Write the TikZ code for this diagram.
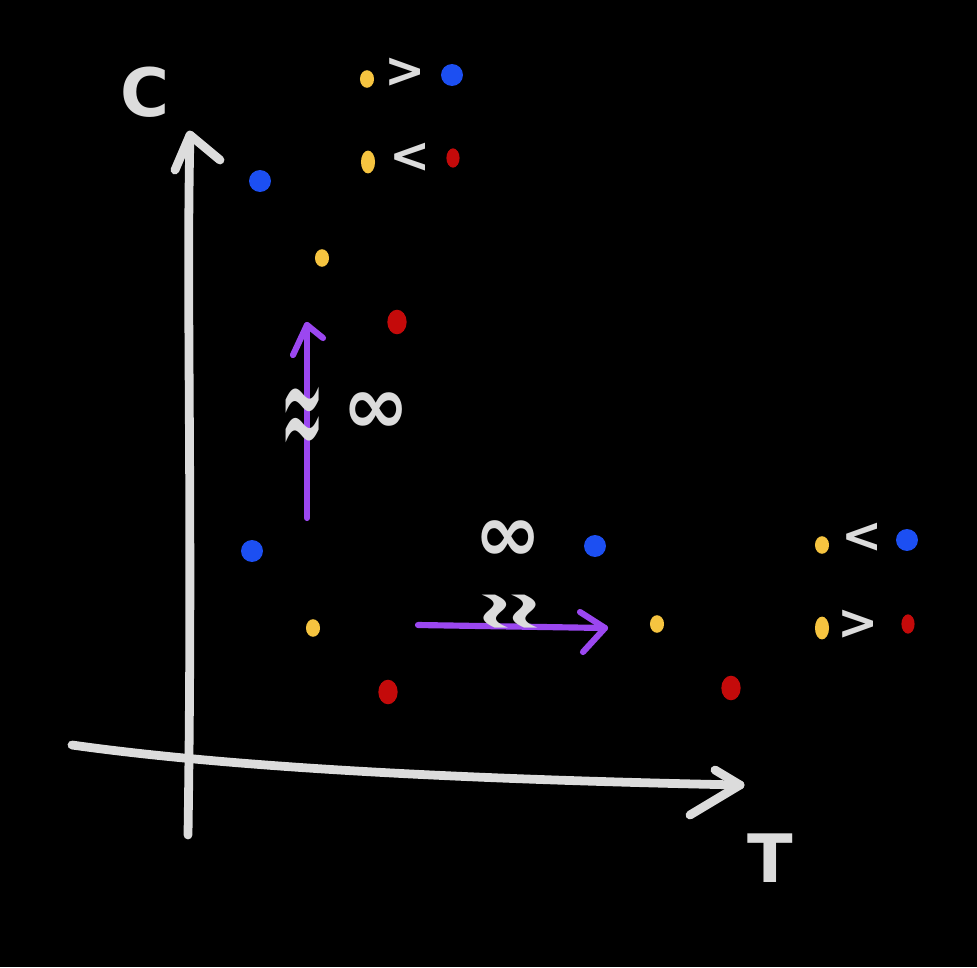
\documentclass[tikz,border=0pt]{standalone}
\usepackage{fontspec}
\setmainfont{DejaVu Sans}
\usepackage{tikz}
\usetikzlibrary{arrows.meta, positioning, shapes.geometric}

\definecolor{chalk}{HTML}{DCDCDC}
\definecolor{dotblue}{HTML}{1C4FF2}
\definecolor{dotyellow}{HTML}{F6C440}
\definecolor{dotred}{HTML}{C40A0A}
\definecolor{movepurple}{HTML}{9B47F0}

\begin{document}
\begin{tikzpicture}[
  x=0.02cm, y=-0.02cm,
  axis/.style={draw=chalk, line width=5pt, line cap=round, line join=round},
  move/.style={draw=movepurple, line width=3.5pt, line cap=round, line join=round},
  blue dot/.style={circle, fill=dotblue, inner sep=0pt, minimum size=12.5pt},
  yellow dot/.style={ellipse, fill=dotyellow, inner sep=0pt, minimum width=8pt, minimum height=10pt},
  red dot/.style={ellipse, fill=dotred, inner sep=0pt, minimum width=11pt, minimum height=14pt},
  small red/.style={red dot, minimum width=7.5pt, minimum height=11pt},
  sign/.style={text=chalk, inner sep=0pt, font=\fontsize{28}{28}\selectfont\bfseries},
  wave/.style={text=chalk, inner sep=0pt, font=\fontsize{40}{40}\selectfont},
  axlabel/.style={text=chalk, inner sep=0pt, font=\fontsize{38}{38}\selectfont\bfseries},
]

% Background
\fill[black] (0,0) rectangle (977,967);

% Axes
\coordinate (c0) at (188,835);
\coordinate (c1) at (190,135);
\coordinate (t0) at (72,745);
\coordinate (t1) at (740,785);
\draw[axis] (c0) .. controls (193,500) and (186,300) .. (c1);
\draw[axis] (175,170) -- (c1) -- (220,160);
\draw[axis] (t0) .. controls (250,770) and (500,780) .. (t1);
\draw[axis] (715,770) -- (t1) -- (690,815);
\node[axlabel] (clabel) at (145,92) {C};
\node[axlabel] (tlabel) at (770,858) {T};

% Legend
\node[yellow dot] (ly1) at (367,79) {};
\node[sign] (gt1) at (405,73) {>};
\node[blue dot] (lb1) at (452,75) {};
\node[yellow dot, minimum height=13pt] (ly2) at (368,162) {};
\node[sign] (lt1) at (410,158) {<};
\node[small red] (lr1) at (453,158) {};

\node[yellow dot] (ly3) at (822,545) {};
\node[sign] (lt2) at (862,538) {<};
\node[blue dot] (lb2) at (907,540) {};
\node[yellow dot, minimum height=13pt] (ly4) at (822,628) {};
\node[sign] (gt2) at (858,625) {>};
\node[small red] (lr2) at (908,624) {};

% Upper triple
\node[blue dot] (b1) at (260,181) {};
\node[yellow dot] (y1) at (322,258) {};
\node[red dot] (r1) at (397,322) {};

% Lower left triple
\node[blue dot] (b2) at (252,551) {};
\node[yellow dot] (y2) at (313,628) {};
\node[red dot] (r2) at (388,692) {};

% Lower right triple
\node[blue dot] (b3) at (595,546) {};
\node[yellow dot] (y3) at (657,624) {};
\node[red dot] (r3) at (731,688) {};

% Shifts
\coordinate (up0) at (307,518);
\coordinate (up1) at (307,325);
\draw[move] (up0) -- (up1);
\draw[move] (293,355) -- (up1) -- (323,338);
\node[wave] (approx1) at (303,425) {\scalebox{0.75}[2.2]{≈}};
\node[sign, font=\fontsize{46}{46}\selectfont\bfseries] (inf1) at (376,413) {∞};

\coordinate (rt0) at (418,625);
\coordinate (rt1) at (605,628);
\draw[move] (rt0) -- (rt1);
\draw[move] (580,612) -- (rt1) -- (583,652);
\node[wave, rotate=-90] (approx2) at (500,612) {\scalebox{0.75}[2.2]{≈}};
\node[sign, font=\fontsize{46}{46}\selectfont\bfseries] (inf2) at (508,541) {∞};

\end{tikzpicture}
\end{document}
